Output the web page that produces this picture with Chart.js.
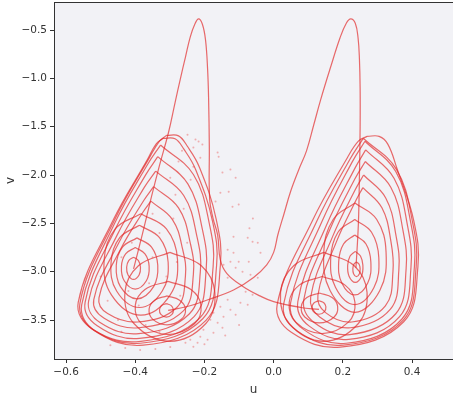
<!DOCTYPE html>
<html>
<head>
<meta charset="utf-8">
<script src="https://cdn.jsdelivr.net/npm/chart.js@4/dist/chart.umd.min.js"></script>
<style>
html,body{margin:0;padding:0;background:#fff;}
#wrap{width:453px;height:400px;}
</style>
</head>
<body>
<div id="wrap"><canvas id="c" width="453" height="400"></canvas></div>
<script>
// ---- data: [u, v] pairs ----
const xTicks = [-0.6, -0.4, -0.2, 0.0, 0.2, 0.4];
const yTicks = [-3.5, -3.0, -2.5, -2.0, -1.5, -1.0, -0.5];

// left attractor, loops around the upper focus (-0.405, -2.97)
const leftLoopsA = [
  [[-0.405,-2.85],[-0.391,-2.885],[-0.385,-2.954],[-0.389,-3.034],[-0.405,-3.08],[-0.421,-3.034],[-0.425,-2.954],[-0.419,-2.885]],
  [[-0.40,-2.75],[-0.372,-2.815],[-0.36,-2.944],[-0.368,-3.094],[-0.40,-3.18],[-0.432,-3.094],[-0.44,-2.944],[-0.428,-2.815]],
  [[-0.395,-2.65],[-0.353,-2.745],[-0.335,-2.934],[-0.347,-3.154],[-0.395,-3.28],[-0.443,-3.154],[-0.455,-2.934],[-0.437,-2.745]],
  [[-0.388,-2.52],[-0.330,-2.648],[-0.305,-2.903],[-0.322,-3.20],[-0.388,-3.37],[-0.454,-3.20],[-0.47,-2.903],[-0.445,-2.648]],
  [[-0.384,-2.40],[-0.310,-2.558],[-0.278,-2.873],[-0.299,-3.24],[-0.384,-3.45],[-0.469,-3.24],[-0.49,-2.873],[-0.458,-2.558]],
  [[-0.355,-2.27],[-0.293,-2.458],[-0.263,-2.77],[-0.255,-3.045],[-0.28,-3.37],[-0.393,-3.52],[-0.48,-3.433],[-0.505,-3.27],[-0.443,-2.77],[-0.38,-2.395]],
  [[-0.347,-2.12],[-0.275,-2.339],[-0.241,-2.704],[-0.232,-3.025],[-0.261,-3.405],[-0.39,-3.58],[-0.491,-3.478],[-0.52,-3.288],[-0.448,-2.704],[-0.376,-2.266]],
  [[-0.341,-1.96],[-0.26,-2.212],[-0.222,-2.632],[-0.212,-3.002],[-0.244,-3.438],[-0.39,-3.64],[-0.503,-3.522],[-0.535,-3.304],[-0.454,-2.632],[-0.374,-2.128]],
  [[-0.335,-1.81],[-0.248,-2.092],[-0.206,-2.562],[-0.195,-2.976],[-0.23,-3.464],[-0.388,-3.69],[-0.51,-3.558],[-0.545,-3.314],[-0.458,-2.562],[-0.37,-1.998]],
  [[-0.327,-1.69],[-0.232,-1.995],[-0.186,-2.502],[-0.175,-2.949],[-0.213,-3.476],[-0.384,-3.72],[-0.517,-3.608],[-0.555,-3.344],[-0.46,-2.502],[-0.365,-1.893]],
  [[-0.31,-1.59],[-0.275,-1.595],[-0.25,-1.70],[-0.215,-1.916],[-0.166,-2.458],[-0.154,-2.935],[-0.195,-3.50],[-0.377,-3.76],[-0.519,-3.608],[-0.56,-3.326],[-0.459,-2.458],[-0.357,-1.807],[-0.33,-1.65]],
  [[-0.32,-1.62],[-0.285,-1.625],[-0.26,-1.73],[-0.225,-1.947],[-0.177,-2.474],[-0.165,-2.938],[-0.205,-3.487],[-0.385,-3.74],[-0.525,-3.592],[-0.565,-3.318],[-0.465,-2.474],[-0.365,-1.841],[-0.34,-1.68]]
];

// left attractor, loops around the lower focus (-0.31, -3.40)
const leftLoopsB = [
  [[-0.31,-3.33],[-0.296,-3.351],[-0.29,-3.393],[-0.294,-3.442],[-0.31,-3.47],[-0.326,-3.442],[-0.33,-3.393],[-0.324,-3.351]],
  [[-0.308,-3.25],[-0.272,-3.295],[-0.255,-3.385],[-0.266,-3.49],[-0.308,-3.55],[-0.35,-3.49],[-0.36,-3.385],[-0.344,-3.295]],
  [[-0.305,-3.10],[-0.239,-3.183],[-0.21,-3.348],[-0.229,-3.54],[-0.305,-3.65],[-0.381,-3.54],[-0.40,-3.348],[-0.372,-3.183]],
  [[-0.30,-2.80],[-0.209,-2.938],[-0.17,-3.214],[-0.196,-3.536],[-0.30,-3.72],[-0.404,-3.536],[-0.43,-3.214],[-0.391,-2.938]]
];

// right attractor, loops around the upper focus (0.238, -2.96)
const rightLoopsA = [
  [[0.2395,-2.90],[0.247,-2.923],[0.25,-2.968],[0.248,-3.02],[0.2395,-3.05],[0.231,-3.02],[0.229,-2.968],[0.232,-2.923]],
  [[0.236,-2.79],[0.251,-2.838],[0.258,-2.934],[0.254,-3.046],[0.236,-3.11],[0.218,-3.046],[0.214,-2.934],[0.221,-2.838]],
  [[0.2345,-2.62],[0.267,-2.713],[0.281,-2.899],[0.272,-3.116],[0.2345,-3.24],[0.197,-3.116],[0.188,-2.899],[0.202,-2.713]],
  [[0.2345,-2.46],[0.283,-2.592],[0.304,-2.856],[0.29,-3.164],[0.2345,-3.34],[0.179,-3.164],[0.165,-2.856],[0.186,-2.592]],
  [[0.235,-2.29],[0.298,-2.46],[0.325,-2.799],[0.307,-3.194],[0.235,-3.42],[0.163,-3.194],[0.145,-2.799],[0.172,-2.46]],
  [[0.258,-2.13],[0.313,-2.339],[0.339,-2.686],[0.345,-2.992],[0.323,-3.353],[0.226,-3.52],[0.15,-3.423],[0.128,-3.242],[0.182,-2.686],[0.237,-2.269]],
  [[0.26,-2.00],[0.324,-2.237],[0.354,-2.632],[0.362,-2.98],[0.337,-3.39],[0.222,-3.58],[0.133,-3.469],[0.107,-3.264],[0.171,-2.632],[0.235,-2.158]],
  [[0.265,-1.86],[0.339,-2.129],[0.374,-2.576],[0.383,-2.97],[0.353,-3.435],[0.22,-3.65],[0.117,-3.525],[0.087,-3.292],[0.161,-2.576],[0.235,-2.039]],
  [[0.266,-1.74],[0.348,-2.034],[0.387,-2.524],[0.397,-2.955],[0.364,-3.465],[0.217,-3.70],[0.103,-3.563],[0.07,-3.308],[0.152,-2.524],[0.234,-1.936]],
  [[0.264,-1.65],[0.353,-1.964],[0.396,-2.486],[0.407,-2.946],[0.371,-3.489],[0.21,-3.74],[0.085,-3.594],[0.049,-3.322],[0.139,-2.486],[0.228,-1.859]],
  [[0.259,-1.62],[0.355,-1.941],[0.401,-2.476],[0.412,-2.947],[0.374,-3.503],[0.201,-3.76],[0.067,-3.61],[0.029,-3.332],[0.125,-2.476],[0.221,-1.834]],
  [[0.27,-1.60],[0.305,-1.60],[0.33,-1.68],[0.356,-1.927],[0.405,-2.472],[0.417,-2.952],[0.376,-3.518],[0.193,-3.78],[0.051,-3.627],[0.01,-3.344],[0.112,-2.472],[0.2135,-1.818],[0.245,-1.65]]
];

// right attractor, loops around the lower focus (0.131, -3.37)
const rightLoopsB = [
  [[0.131,-3.30],[0.145,-3.321],[0.151,-3.363],[0.147,-3.412],[0.131,-3.44],[0.115,-3.412],[0.111,-3.363],[0.117,-3.321]],
  [[0.1325,-3.22],[0.169,-3.267],[0.185,-3.36],[0.175,-3.468],[0.1325,-3.53],[0.09,-3.468],[0.08,-3.36],[0.096,-3.267]],
  [[0.14,-3.05],[0.2065,-3.139],[0.235,-3.316],[0.216,-3.522],[0.14,-3.64],[0.064,-3.522],[0.045,-3.316],[0.074,-3.139]],
  [[0.145,-2.80],[0.233,-2.938],[0.27,-3.214],[0.245,-3.536],[0.145,-3.72],[0.045,-3.536],[0.02,-3.214],[0.058,-2.938]]
];

// excursion: left focus -> left peak -> down -> right lower focus
const leftExcursion = [[-0.405,-2.97],[-0.38,-2.62],[-0.355,-2.25],[-0.33,-1.90],[-0.304,-1.56],[-0.285,-1.25],[-0.27,-1.01],[-0.255,-0.78],[-0.241,-0.57],[-0.228,-0.44],[-0.217,-0.385],[-0.206,-0.44],[-0.197,-0.60],[-0.191,-0.90],[-0.188,-1.22],[-0.186,-1.70],[-0.185,-2.25],[-0.175,-2.45],[-0.162,-2.62],[-0.154,-2.88],[-0.135,-3.02],[-0.09,-3.15],[-0.04,-3.25],[0.0,-3.31],[0.078,-3.37],[0.131,-3.39]];

// excursion: left lower focus -> right peak -> down -> right upper focus
const rightExcursion = [[-0.305,-3.40],[-0.25,-3.36],[-0.19,-3.29],[-0.116,-3.19],[-0.058,-3.06],[-0.02,-2.93],[0.0,-2.80],[0.012,-2.62],[0.03,-2.40],[0.049,-2.17],[0.072,-1.95],[0.095,-1.75],[0.116,-1.48],[0.136,-1.22],[0.165,-0.88],[0.192,-0.58],[0.21,-0.43],[0.223,-0.385],[0.236,-0.43],[0.244,-0.58],[0.248,-0.80],[0.25,-1.1],[0.25,-1.5],[0.248,-2.0],[0.245,-2.5],[0.238,-2.96]];

// faint scattered points
const scatterDots = [[-0.249,-1.582],[-0.226,-1.633],[-0.217,-1.654],[-0.232,-1.716],[-0.206,-1.685],[-0.162,-1.768],[-0.159,-1.810],[-0.212,-1.820],[-0.148,-1.975],[-0.125,-1.944],[-0.110,-2.027],[-0.232,-1.913],[-0.154,-2.182],[-0.130,-2.172],[-0.168,-2.275],[-0.119,-2.327],[-0.101,-2.306],[-0.284,-2.203],[-0.299,-2.027],[-0.275,-1.861],[-0.116,-2.638],[-0.075,-2.648],[-0.061,-2.689],[-0.046,-2.700],[-0.133,-2.772],[-0.116,-2.803],[-0.038,-2.803],[-0.125,-2.896],[-0.101,-2.896],[-0.072,-2.896],[-0.145,-2.928],[-0.110,-2.959],[-0.090,-3.000],[-0.067,-3.031],[-0.046,-3.062],[-0.133,-3.062],[-0.081,-3.207],[-0.061,-3.238],[-0.133,-3.290],[-0.096,-3.321],[-0.075,-3.342],[-0.154,-3.362],[-0.125,-3.393],[-0.174,-3.424],[-0.145,-3.466],[-0.110,-3.445],[-0.162,-3.528],[-0.183,-3.497],[-0.148,-3.580],[-0.203,-3.600],[-0.174,-3.631],[-0.212,-3.673],[-0.241,-3.704],[-0.191,-3.704],[-0.220,-3.735],[-0.255,-3.735],[-0.232,-3.776],[-0.386,-3.81],[-0.342,-3.80],[-0.299,-3.78],[-0.429,-3.79],[-0.472,-3.76],[-0.35,-2.40],[-0.33,-2.60],[-0.28,-2.90],[-0.42,-3.20],[-0.37,-3.55],[-0.45,-3.50],[-0.26,-2.35],[-0.24,-2.05],[-0.31,-3.05],[-0.44,-2.85],[-0.36,-3.12],[-0.27,-3.25],[-0.07,-2.55],[-0.06,-2.45],[-0.20,-3.75],[-0.14,-3.66],[-0.10,-3.55],[-0.265,-1.75],[-0.39,-3.35],[-0.33,-3.62],[-0.48,-3.30],[-0.41,-2.70],[-0.29,-2.45],[-0.25,-2.70],[-0.50,-3.05],[-0.44,-3.62],[-0.35,-2.85]];

// ---- chart ----
const lineColor = 'rgba(226,38,38,0.68)';
const dotColor = 'rgba(236,105,105,0.5)';
function toPts(arr, close) {
  const pts = arr.map(p => ({x: p[0], y: p[1]}));
  if (close) pts.push({x: arr[0][0], y: arr[0][1]});
  return pts;
}
function lineDs(arr, close) {
  return {data: toPts(arr, close), showLine: true, pointRadius: 0, pointHoverRadius: 0, borderWidth: 1.2,
          borderColor: lineColor, tension: 0.4, fill: false};
}
const datasets = [];
[leftLoopsA, leftLoopsB, rightLoopsA, rightLoopsB].forEach(g => g.forEach(l => datasets.push(lineDs(l, true))));
datasets.push(lineDs(leftExcursion, false));
datasets.push(lineDs(rightExcursion, false));
datasets.push({data: toPts(scatterDots, false), showLine: false, pointRadius: 1, pointHoverRadius: 0,
               pointBorderWidth: 0, backgroundColor: dotColor, borderColor: dotColor});

const fmt = v => (Math.abs(v) < 1e-9 ? '0.0' : v.toFixed(1).replace('-', '\u2212'));
const tickFont = {family: 'DejaVu Sans', size: 10.5};
const axisColor = '#333';

const bgPlugin = {
  id: 'bg',
  beforeDraw(chart) {
    const a = chart.chartArea, ctx = chart.ctx;
    ctx.save();
    ctx.fillStyle = 'rgb(242,242,246)';
    ctx.fillRect(a.left, a.top, a.right - a.left, a.bottom - a.top);
    ctx.restore();
  },
  afterDraw(chart) {
    const a = chart.chartArea, ctx = chart.ctx;
    ctx.save();
    ctx.strokeStyle = axisColor;
    ctx.lineWidth = 1;
    ctx.beginPath();
    ctx.moveTo(a.left, a.top + 0.5);
    ctx.lineTo(a.right, a.top + 0.5);
    ctx.stroke();
    ctx.restore();
  }
};

function zeroPad(s) { s.paddingTop = 0; s.paddingBottom = 0; s.paddingLeft = 0; s.paddingRight = 0; }

new Chart(document.getElementById('c'), {
  type: 'scatter',
  data: {datasets},
  plugins: [bgPlugin],
  options: {
    responsive: false,
    animation: false,
    events: [],
    layout: {autoPadding: false, padding: {top: 2, right: 0, left: 0, bottom: 0}},
    plugins: {legend: {display: false}, tooltip: {enabled: false}},
    scales: {
      x: {
        type: 'linear', min: -0.635, max: 0.5185,
        afterBuildTicks: s => { s.ticks = xTicks.map(v => ({value: v})); },
        afterFit: s => { s.height = 41; zeroPad(s); },
        ticks: {callback: v => fmt(v), font: tickFont, color: axisColor, padding: 3, maxRotation: 0},
        grid: {display: true, drawOnChartArea: false, drawTicks: true, tickLength: 4, color: axisColor},
        border: {display: true, color: axisColor, width: 1},
        title: {display: true, text: 'u', font: {family: 'DejaVu Sans', size: 12}, color: axisColor, padding: {top: 2, bottom: 3}}
      },
      y: {
        type: 'linear', min: -3.903, max: -0.21,
        afterBuildTicks: s => { s.ticks = yTicks.map(v => ({value: v})); },
        afterFit: s => { s.width = 54; zeroPad(s); },
        ticks: {callback: v => fmt(v), font: tickFont, color: axisColor, padding: 3},
        grid: {display: true, drawOnChartArea: false, drawTicks: true, tickLength: 4, color: axisColor},
        border: {display: true, color: axisColor, width: 1},
        title: {display: true, text: 'v', font: {family: 'DejaVu Sans', size: 12}, color: axisColor, padding: {top: 4, bottom: 4}}
      }
    }
  }
});
</script>
</body>
</html>
